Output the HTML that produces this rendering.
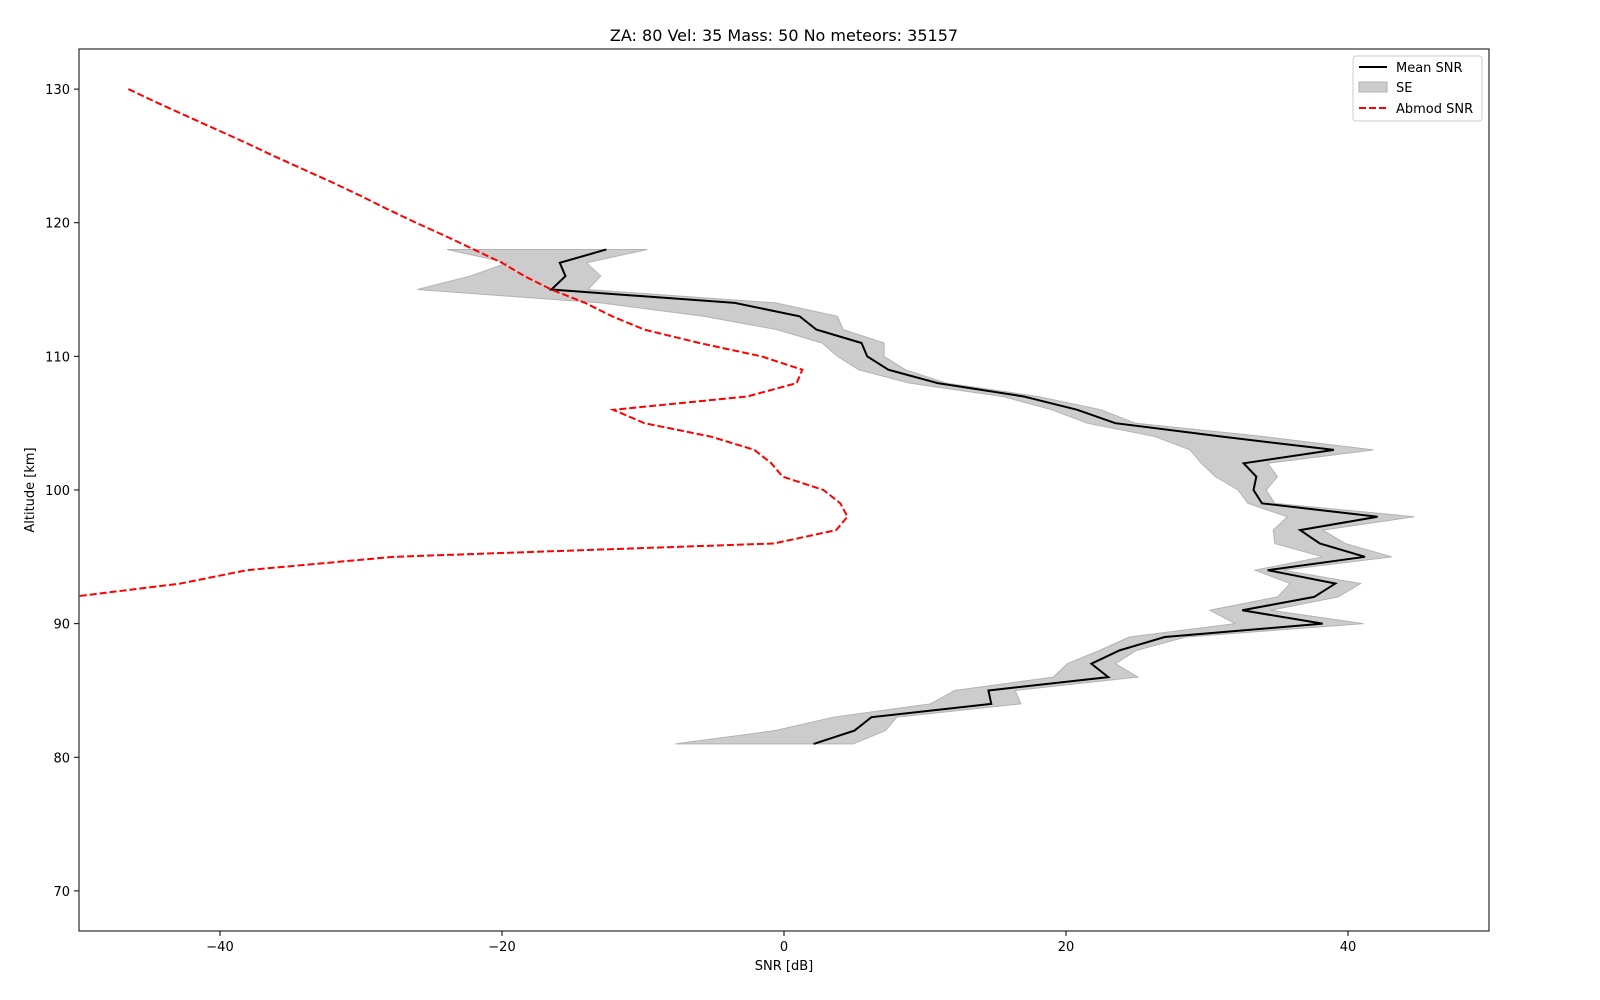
<!DOCTYPE html>
<html><head><meta charset="utf-8"><style>
html,body{margin:0;padding:0;background:#fff;width:1600px;height:1000px;overflow:hidden;font-family:"Liberation Sans","DejaVu Sans",sans-serif}
svg{display:block}
svg text{font-family:"DejaVu Sans","Liberation Sans",sans-serif}
</style></head><body>
<svg id="chart" width="1600" height="1000" xmlns="http://www.w3.org/2000/svg">
<rect width="1600" height="1000" fill="#fff"/>
<defs><clipPath id="clip"><rect x="79" y="49" width="1410" height="882"/></clipPath></defs>
<g id="plot" clip-path="url(#clip)"></g>
<g id="axes"></g>
<text x="784" y="41" text-anchor="middle" font-size="16">ZA: 80 Vel: 35 Mass: 50 No meteors: 35157</text>
<text x="784" y="970" text-anchor="middle" font-size="13">SNR [dB]</text>
<text transform="translate(34,490) rotate(-90)" text-anchor="middle" font-size="13">Altitude [km]</text>
<g>
<rect x="1353" y="56" width="129" height="65" rx="3" fill="#fff" stroke="#ccc"/>
<line x1="1359" y1="67" x2="1387" y2="67" stroke="#000" stroke-width="2"/>
<text x="1396" y="72" font-size="13">Mean SNR</text>
<rect x="1359" y="82" width="28" height="10" fill="#ccc" stroke="#b3b3b3"/>
<text x="1396" y="92" font-size="13">SE</text>
<line x1="1359" y1="108" x2="1387" y2="108" stroke="#f00" stroke-width="2" stroke-dasharray="7,3"/>
<text x="1396" y="113" font-size="13">Abmod SNR</text>
</g>
</svg>
<script>
const altitudes=[118,117,116,115,114,113,112,111,110,109,108,107,106,105,104,103,102,101,100,99,98,97,96,95,94,93,92,91,90,89,88,87,86,85,84,83,82,81];
const meanSnr=[-12.6,-15.9,-15.5,-16.5,-3.5,1.1,2.3,5.5,5.9,7.4,10.9,17.0,20.8,23.5,31.0,39.0,32.6,33.5,33.3,33.9,42.1,36.6,38.0,41.2,34.3,39.1,37.6,32.5,38.2,27.0,23.8,21.8,23.0,14.5,14.7,6.2,5.0,2.1];
const seLower=[-23.9,-19.6,-22.3,-26.0,-13.0,-5.7,-0.5,2.7,3.8,5.3,8.9,15.5,19.0,21.5,26.3,28.8,29.6,30.6,32.2,32.9,35.7,34.7,34.8,38.2,33.4,35.9,35.0,30.2,32.0,24.5,22.4,20.1,19.1,12.1,10.4,3.5,-0.6,-7.7];
const seUpper=[-9.7,-14.0,-13.0,-13.9,-0.6,3.8,4.2,7.1,7.1,8.6,11.5,18.0,22.5,24.9,34.0,41.8,34.3,35.0,34.2,34.8,44.7,38.2,39.8,43.1,35.4,40.9,39.3,34.5,41.1,28.5,25.0,23.5,25.1,16.4,16.8,8.0,7.2,4.9];
const abmodAlt=[130,129,128,127,126,125,124,123,122,121,120,119,118,117,116,115,114,113,112,111,110,109,108,107,106,105,104,103,102,101,100,99,98,97,96,95,94,93,92,91];
const abmodSnr=[-46.5,-44.5,-42.4,-40.3,-38.2,-36.2,-34.1,-32.0,-30.0,-28.1,-26.1,-24.0,-22.0,-20.0,-18.4,-16.5,-14.1,-12.2,-9.9,-6.0,-1.6,1.3,0.9,-2.6,-12.1,-9.9,-5.2,-2.1,-0.9,-0.1,2.8,4.0,4.5,3.7,-0.7,-27.7,-38.1,-42.8,-50.5,-60];
const xTicks=[-40,-20,0,20,40];
const yTicks=[70,80,90,100,110,120,130];
const L=79,R=1489,T=49,B=931,XMIN=-50,XMAX=50,YMIN=67,YMAX=133;
const sx=v=>L+(v-XMIN)/(XMAX-XMIN)*(R-L);
const sy=v=>B-(v-YMIN)/(YMAX-YMIN)*(B-T);
const NS="http://www.w3.org/2000/svg";
function mk(tag,attrs,parent){const e=document.createElementNS(NS,tag);for(const k in attrs)e.setAttribute(k,attrs[k]);parent.appendChild(e);return e;}
const plot=document.getElementById('plot'),axes=document.getElementById('axes');
let pts=altitudes.map((a,i)=>sx(seUpper[i])+','+sy(a));
pts=pts.concat(altitudes.map((a,i)=>sx(seLower[i])+','+sy(a)).reverse());
const se=mk('polygon',{points:pts.join(' '),fill:'#cccccc',stroke:'#b3b3b3','stroke-width':1},plot);


const ml=mk('polyline',{points:altitudes.map((a,i)=>sx(meanSnr[i])+','+sy(a)).join(' '),fill:'none',stroke:'#000','stroke-width':2},plot);


const al=mk('polyline',{points:abmodAlt.map((a,i)=>sx(abmodSnr[i])+','+sy(a)).join(' '),fill:'none',stroke:'#ff0000','stroke-width':2,'stroke-dasharray':'7,3'},plot);


const fr=mk('rect',{x:L,y:T,width:R-L,height:B-T,fill:'none',stroke:'#000','stroke-width':1},axes);


xTicks.forEach(v=>{
 mk('line',{x1:sx(v),x2:sx(v),y1:B,y2:B+5,stroke:'#000'},axes);
 const t=mk('text',{x:sx(v),y:B+20,'text-anchor':'middle','font-size':13},axes);t.textContent=v<0?'\u2212'+(-v):v;
 
 
});
yTicks.forEach(v=>{
 mk('line',{x1:L-5,x2:L,y1:sy(v),y2:sy(v),stroke:'#000'},axes);
 const t=mk('text',{x:L-9,y:sy(v)+5,'text-anchor':'end','font-size':13},axes);t.textContent=v;
 
 
});
</script>
</body></html>
